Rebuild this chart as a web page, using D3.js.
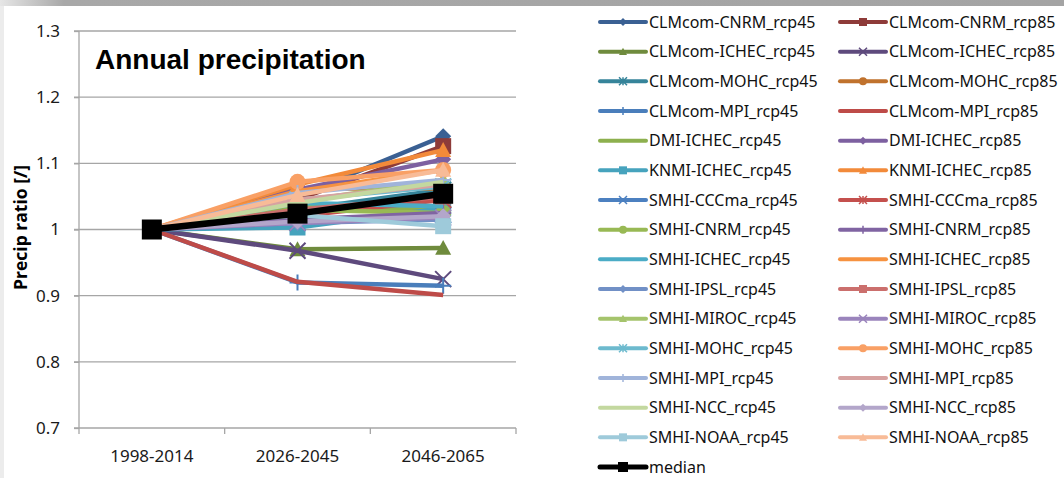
<!DOCTYPE html>
<html>
<head>
<meta charset="utf-8">
<script src="https://cdn.jsdelivr.net/npm/d3@7"></script>
<style>
  body { margin: 0; background: #fff; }
  svg { display: block; font-family: "Noto Sans", "Open Sans", sans-serif; }
</style>
</head>
<body>
<svg id="chart" width="1064" height="478"></svg>
<script>
// periods on the x axis
const periods = ['1998-2014', '2026-2045', '2046-2065'];

const seriesNames = [
  'CLMcom-CNRM_rcp45', 'CLMcom-CNRM_rcp85',
  'CLMcom-ICHEC_rcp45', 'CLMcom-ICHEC_rcp85',
  'CLMcom-MOHC_rcp45', 'CLMcom-MOHC_rcp85',
  'CLMcom-MPI_rcp45', 'CLMcom-MPI_rcp85',
  'DMI-ICHEC_rcp45', 'DMI-ICHEC_rcp85',
  'KNMI-ICHEC_rcp45', 'KNMI-ICHEC_rcp85',
  'SMHI-CCCma_rcp45', 'SMHI-CCCma_rcp85',
  'SMHI-CNRM_rcp45', 'SMHI-CNRM_rcp85',
  'SMHI-ICHEC_rcp45', 'SMHI-ICHEC_rcp85',
  'SMHI-IPSL_rcp45', 'SMHI-IPSL_rcp85',
  'SMHI-MIROC_rcp45', 'SMHI-MIROC_rcp85',
  'SMHI-MOHC_rcp45', 'SMHI-MOHC_rcp85',
  'SMHI-MPI_rcp45', 'SMHI-MPI_rcp85',
  'SMHI-NCC_rcp45', 'SMHI-NCC_rcp85',
  'SMHI-NOAA_rcp45', 'SMHI-NOAA_rcp85'
];

// precip ratio relative to 1998-2014, same order as seriesNames
const ratioRef = seriesNames.map(() => 1);
const ratio2026 = [
  1.050, 1.045,
  0.970, 0.968,
  1.030, 1.062,
  0.920, 0.921,
  1.035, 1.060,
  1.003, 1.068,
  1.010, 1.020,
  1.030, 1.015,
  1.040, 1.058,
  1.010, 1.030,
  1.042, 1.010,
  1.045, 1.072,
  1.055, 1.045,
  1.040, 1.012,
  1.022, 1.052
];
const ratio2046 = [
  1.141, 1.126,
  0.972, 0.925,
  1.060, 1.062,
  0.915, 0.901,
  1.030, 1.106,
  1.032, 1.120,
  1.022, 1.045,
  1.025, 1.025,
  1.035, 1.090,
  1.015, 1.050,
  1.075, 1.018,
  1.065, 1.090,
  1.075, 1.068,
  1.072, 1.020,
  1.005, 1.090
];
const medianName = 'median';
const medianRatio = [1.0, 1.024, 1.054];

const yTicks = [0.7, 0.8, 0.9, 1, 1.1, 1.2, 1.3];

// styles (Excel 2010 palette, cycling by 6 and markers by 9)
const palette = [
  '#3A6093', '#8E3B39', '#6F8B3D', '#5E4A7D', '#36849A', '#C0722D',
  '#4A7EBB', '#BE4B48', '#8DB04E', '#7D60A0', '#46A3BD', '#F28A3A',
  '#4C80C0', '#C4504D', '#98B954', '#8064A2', '#4BACC6', '#F69240',
  '#7190C6', '#CB6F6D', '#A5C46C', '#9A84BC', '#6DBACE', '#F9A065',
  '#A0B4DA', '#D7A2A1', '#C3D89F', '#B3A6CA', '#9ECADA', '#F8BB97'
];
const markerCycle = ['diamond', 'square', 'triangle', 'x', 'star', 'circle', 'plus', 'none', 'none'];

function markerPath(type, r) {
  switch (type) {
    case 'diamond': return `M0,${-r}L${r},0L0,${r}L${-r},0Z`;
    case 'square': return `M${-r},${-r}H${r}V${r}H${-r}Z`;
    case 'triangle': return `M0,${-r}L${r},${r * 0.85}L${-r},${r * 0.85}Z`;
    case 'circle': return `M${r},0A${r},${r} 0 1,1 ${-r},0A${r},${r} 0 1,1 ${r},0Z`;
    case 'x': return `M${-r},${-r}L${r},${r}M${r},${-r}L${-r},${r}`;
    case 'star': return `M${-r},${-r}L${r},${r}M${r},${-r}L${-r},${r}M0,${-r}L0,${r}`;
    case 'plus': return `M${-r},0L${r},0M0,${-r}L0,${r}`;
    default: return null;
  }
}
const strokeMarkers = new Set(['x', 'star', 'plus']);

const svg = d3.select('#chart');

// frame decoration (grey band on top, light strip at left)
const grad = svg.append('defs').append('linearGradient')
    .attr('id', 'topbar').attr('x1', 0).attr('x2', 1);
grad.append('stop').attr('offset', 0).attr('stop-color', '#e6e6e6');
grad.append('stop').attr('offset', 0.06).attr('stop-color', '#a8a8a8');
grad.append('stop').attr('offset', 1).attr('stop-color', '#a4a4a4');
svg.append('rect').attr('x', 0).attr('y', 0).attr('width', 1064).attr('height', 6).attr('fill', 'url(#topbar)');
svg.append('rect').attr('x', 0).attr('y', 6).attr('width', 4).attr('height', 472).attr('fill', '#ececec');

const plot = { left: 79, right: 516, top: 31, bottom: 428 };
const x = d3.scaleBand().domain(periods).range([plot.left, plot.right]);
const y = d3.scaleLinear().domain([0.7, 1.3]).range([plot.bottom, plot.top]);
const cx = p => x(p) + x.bandwidth() / 2;

const g = svg.append('g');

// gridlines
g.append('g')
  .selectAll('line')
  .data(yTicks)
  .join('line')
    .attr('x1', plot.left - 5)
    .attr('x2', plot.right)
    .attr('y1', d => y(d))
    .attr('y2', d => y(d))
    .attr('stroke', '#a6a6a6')
    .attr('stroke-width', 1.3);

// y axis
const yAxis = g.append('g')
    .attr('transform', `translate(${plot.left},0)`)
    .call(d3.axisLeft(y).tickValues(yTicks).tickFormat(d3.format('')).tickSize(5).tickPadding(14));
yAxis.select('.domain').attr('stroke', '#a6a6a6').attr('stroke-width', 1.3).attr('d', `M0,${plot.top}V${plot.bottom}`);
yAxis.selectAll('.tick line').attr('stroke', '#a6a6a6').attr('stroke-width', 1.3);
yAxis.selectAll('.tick text')
    .style('font-family', '"Noto Sans", sans-serif')
    .style('font-size', '17px')
    .attr('fill', '#1a1a1a');

// x axis
const xAxis = g.append('g')
    .attr('transform', `translate(0,${plot.bottom})`)
    .call(d3.axisBottom(x).tickSize(0).tickPadding(22));
xAxis.select('.domain').remove();
xAxis.selectAll('.tick text')
    .style('font-family', '"Noto Sans", sans-serif')
    .style('font-size', '17px')
    .attr('fill', '#1a1a1a');
g.append('g')
  .selectAll('line')
  .data(d3.range(periods.length + 1))
  .join('line')
    .attr('x1', i => plot.left + i * x.step())
    .attr('x2', i => plot.left + i * x.step())
    .attr('y1', plot.bottom)
    .attr('y2', plot.bottom + 6)
    .attr('stroke', '#a6a6a6')
    .attr('stroke-width', 1.3);

// title and y label
svg.append('text')
    .attr('x', 95).attr('y', 69)
    .style('font-family', '"Liberation Sans", Arial, sans-serif')
    .style('font-weight', 'bold')
    .style('font-size', '28px')
    .attr('fill', '#000')
    .text('Annual precipitation');
svg.append('text')
    .attr('transform', `translate(27,${(plot.top + plot.bottom) / 2 - 2}) rotate(-90)`)
    .attr('text-anchor', 'middle')
    .style('font-family', '"Open Sans", sans-serif')
    .style('font-weight', 'bold')
    .style('font-size', '17.5px')
    .attr('fill', '#000')
    .text('Precip ratio [/]');

// series
const series = seriesNames.map((name, i) => ({
  name,
  values: [ratioRef[i], ratio2026[i], ratio2046[i]],
  color: palette[i],
  marker: markerCycle[i % markerCycle.length],
  width: 4.5,
  msize: 8
}));
series.push({ name: medianName, values: medianRatio, color: '#000', marker: 'square', width: 6.5, msize: 10 });

const line = d3.line().x((d, i) => cx(periods[i])).y(d => y(d));

const sg = g.append('g')
  .selectAll('g')
  .data(series)
  .join('g');
sg.append('path')
    .attr('d', d => line(d.values))
    .attr('fill', 'none')
    .attr('stroke', d => d.color)
    .attr('stroke-width', d => d.width)
    .attr('stroke-linejoin', 'round');
sg.each(function(s) {
  const p = markerPath(s.marker, s.msize);
  if (!p) return;
  d3.select(this).selectAll('path.m')
    .data(s.values)
    .join('path')
      .attr('class', 'm')
      .attr('transform', (d, i) => `translate(${cx(periods[i])},${y(d)})`)
      .attr('d', p)
      .attr('fill', strokeMarkers.has(s.marker) ? 'none' : s.color)
      .attr('stroke', s.color)
      .attr('stroke-width', strokeMarkers.has(s.marker) ? 2 : 0);
});

// legend, two columns filled row by row, median alone on last row
const legendRow = d3.scaleLinear().domain([0, 15]).range([22, 467]);
const legendCol = [600, 840];
const legend = svg.append('g')
  .selectAll('g')
  .data(series)
  .join('g')
    .attr('transform', (d, i) => `translate(${legendCol[i % 2]},${legendRow(Math.floor(i / 2))})`);
legend.append('line')
    .attr('x1', 0).attr('x2', 46)
    .attr('stroke', d => d.color)
    .attr('stroke-width', d => d.name === medianName ? 5 : 4)
    .attr('stroke-linecap', 'round');
legend.append('path')
    .attr('transform', 'translate(23,0)')
    .attr('d', d => markerPath(d.marker, d.name === medianName ? 5 : 4) || '')
    .attr('fill', d => strokeMarkers.has(d.marker) ? 'none' : d.color)
    .attr('stroke', d => d.color)
    .attr('stroke-width', d => strokeMarkers.has(d.marker) ? 1.5 : 0);
legend.append('text')
    .attr('x', 49)
    .attr('dy', '0.36em')
    .style('font-size', '16px')
    .attr('fill', '#111')
    .text(d => d.name);
</script>
</body>
</html>
